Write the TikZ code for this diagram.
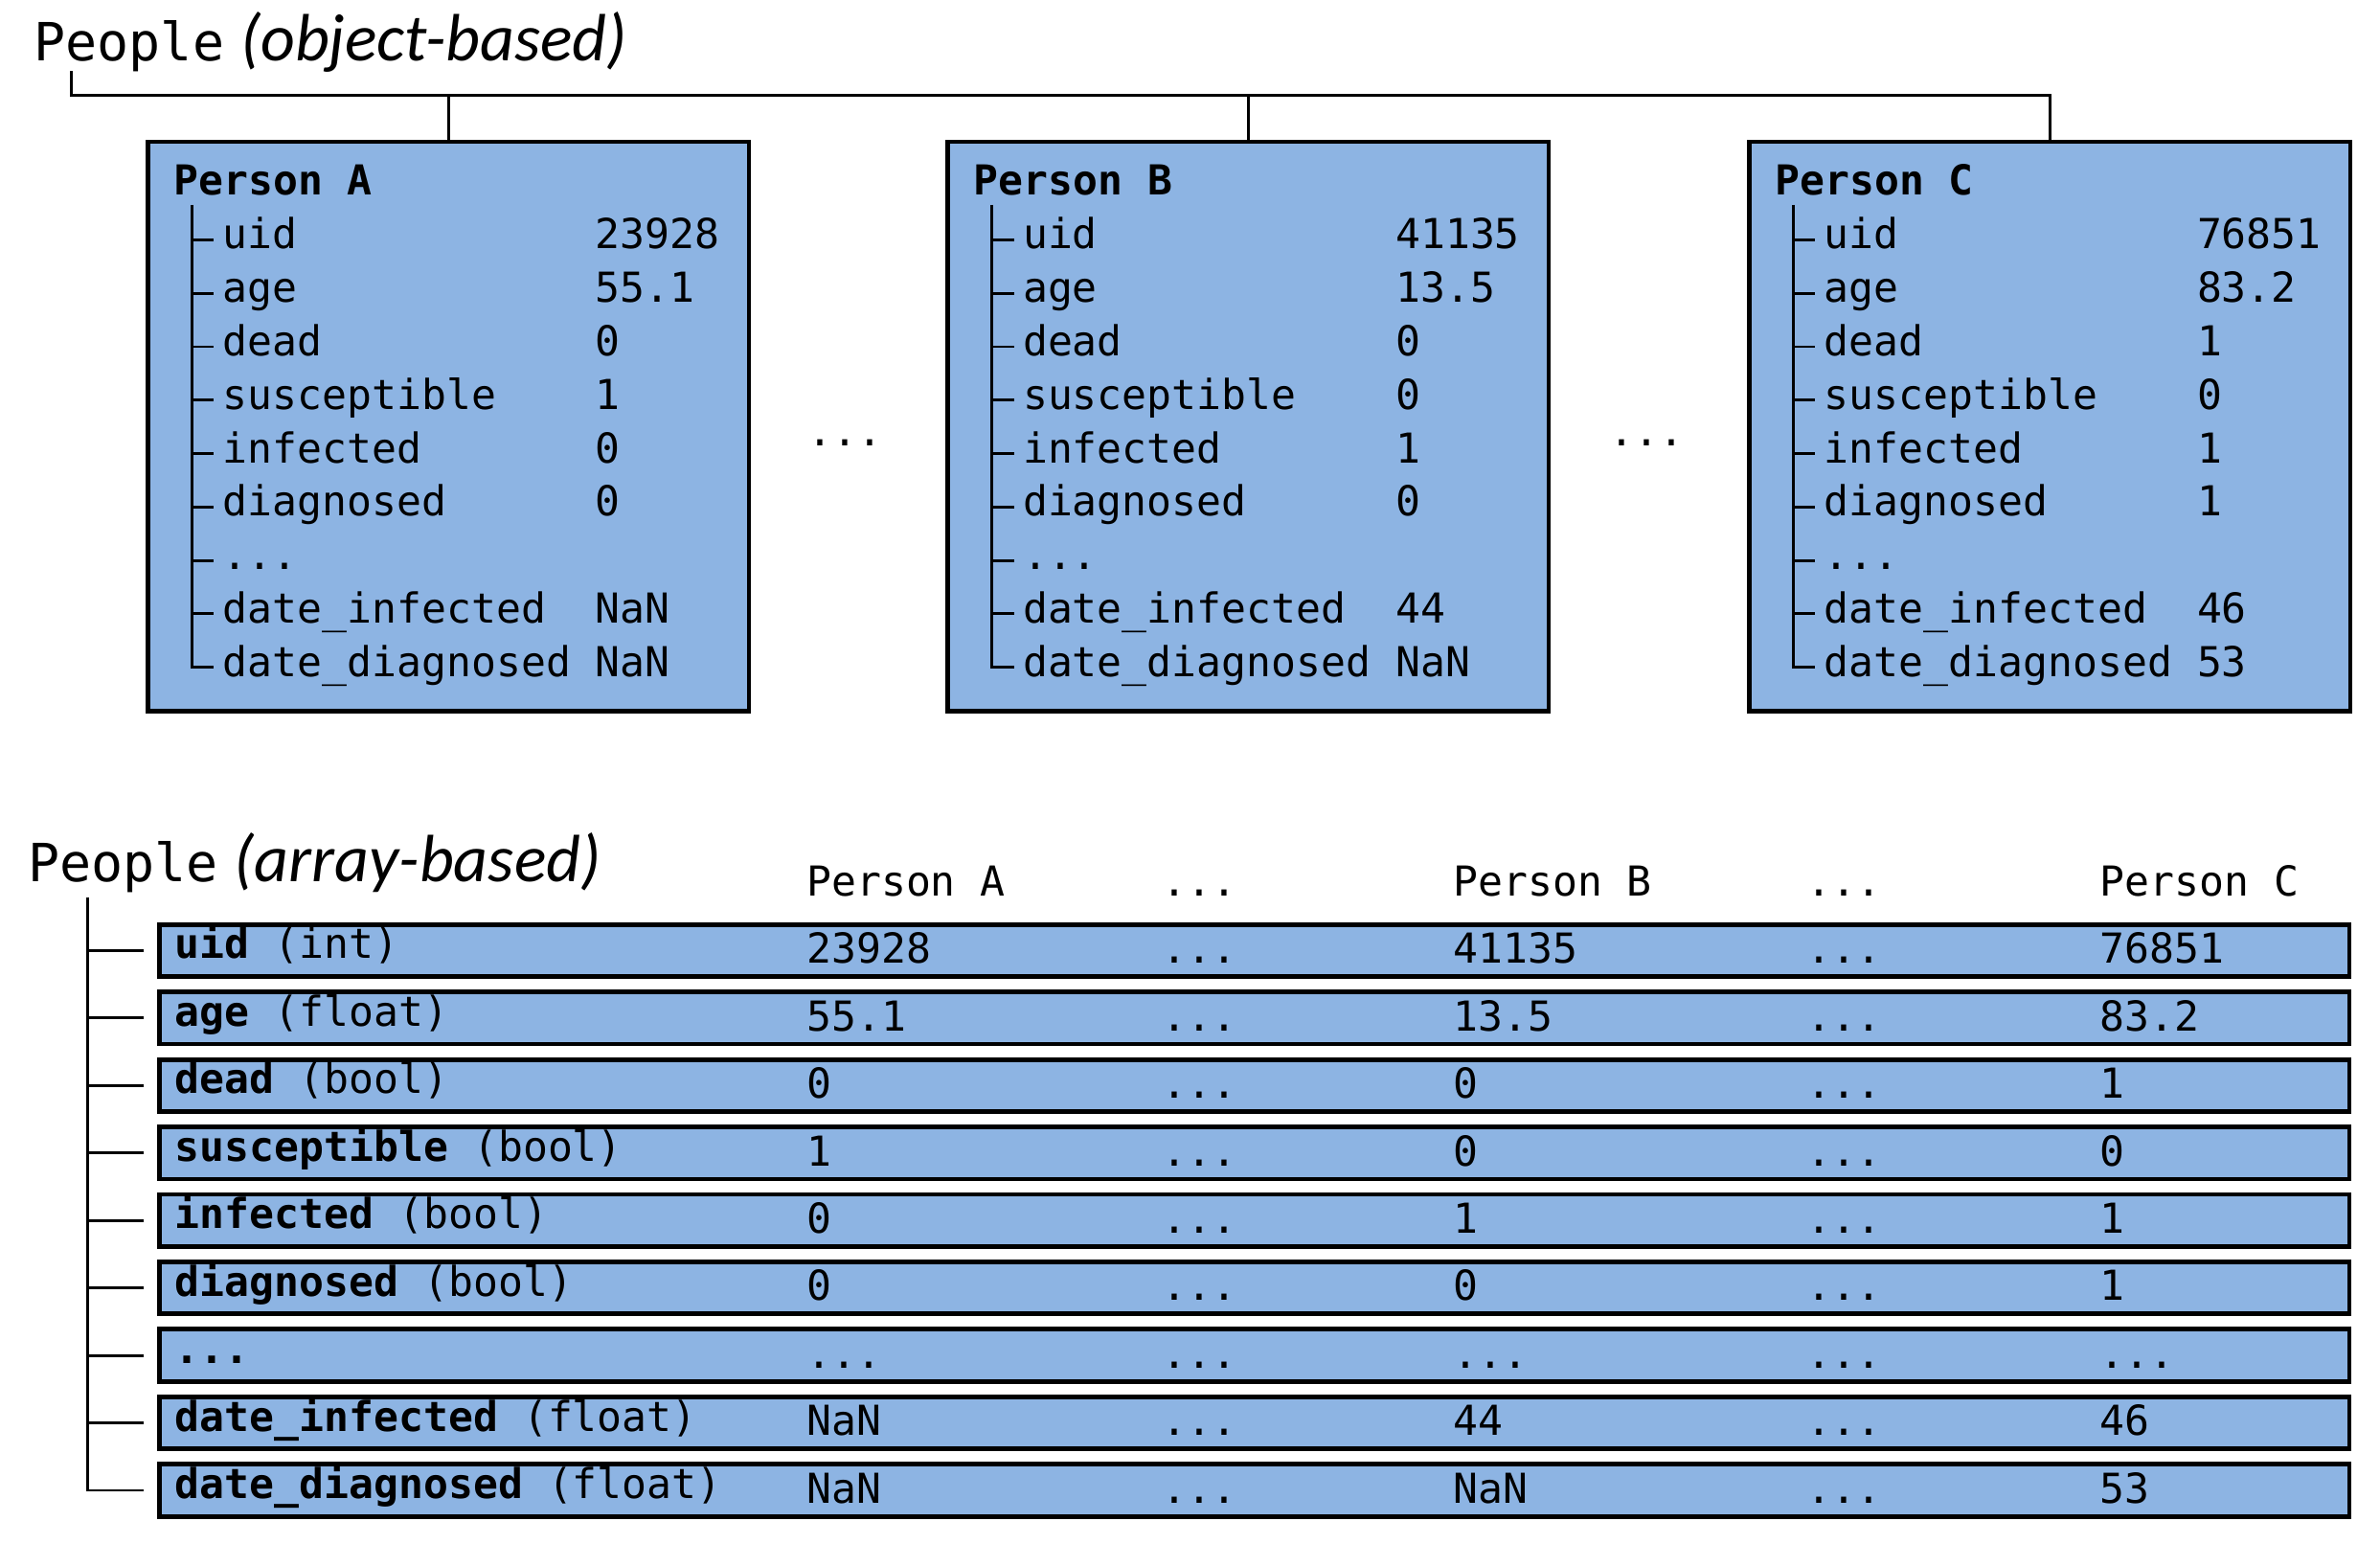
\documentclass[tikz,border=0pt]{standalone}
\usepackage{fontspec}
\setmonofont{DejaVu Sans Mono}
\newfontfamily\slantfont{Carlito}
\definecolor{cellblue}{RGB}{141,180,227}
\newcommand{\headfont}{\fontsize{14.8}{16}\selectfont\ttfamily}
\newcommand{\bodyfont}{\fontsize{11.6}{13}\selectfont\ttfamily}
\newcommand{\kindtext}[1]{{\fontsize{18.8}{20}\selectfont\slantfont\itshape #1}}
\newcommand{\threedots}{...}
\tikzset{
  pbox/.style={draw, fill=cellblue, line width=1.2pt, inner sep=0pt,
    minimum width=5.94cm, minimum height=5.625cm},
  rowbox/.style={draw, fill=cellblue, line width=1.3pt, inner sep=0pt,
    minimum width=21.64cm, minimum height=0.515cm},
  txt/.style={anchor=base west, inner sep=0pt, font=\bodyfont},
  tree/.style={line width=0.8pt},
}

\begin{document}
\begin{tikzpicture}[x=0.015cm, y=-0.015cm]
  \useasboundingbox (0,0) rectangle (1568,1017);
  % object-based view
  \node[anchor=base west, inner sep=0pt, font=\headfont] (objtitle) at (22,40) {People\hspace{0.16cm}\kindtext{(object-based)}};
  \foreach \who/\ox/\vuid/\vage/\vdead/\vsus/\vinf/\vdia/\vdi/\vdd in
      {A/96/23928/55.1/0/1/0/0/NaN/NaN, B/623/41135/13.5/0/0/1/0/44/NaN, C/1151/76851/83.2/1/0/1/1/46/53}{
    \begin{scope}[shift={(\ox,0)}]
      \node[pbox, anchor=north west] (p\who) at (0,92) {};
      \node[txt, font=\bodyfont\bfseries] (p\who-name) at (18,128.5) {Person \who};
      \coordinate (p\who-root) at (30.5,135);
      \foreach \lab/\val [count=\k from 0] in {uid/\vuid, age/\vage, dead/\vdead, susceptible/\vsus,
          infected/\vinf, diagnosed/\vdia, \threedots/{}, date\_infected/\vdi, date\_diagnosed/\vdd}{
        \coordinate (p\who-t\k) at (30.5,{158+35.2*\k});
        \draw[tree] (p\who-t\k) -- ++(14.5,0);
        \node[txt] (p\who-l\k) at (50.5,{164+35.2*\k}) {\lab};
        \node[txt] (p\who-v\k) at (296,{164+35.2*\k}) {\val};
      }
      \draw[tree] (p\who-root) -- (p\who-t8) -- ++(14.5,0);
    \end{scope}
  }
  \coordinate (objtop) at (47,47);
  \coordinate (objbus) at (47,63);
  \draw[tree] (objtop) -- (objbus) -| (pC.north);
  \draw[tree] (pA.north) -- (pA.north |- objbus);
  \draw[tree] (pB.north) -- (pB.north |- objbus);
  \node[txt, anchor=base] (gapAB) at (557,294) {\threedots};
  \node[txt, anchor=base] (gapBC) at (1085,294) {\threedots};

  % array-based view
  \node[anchor=base west, inner sep=0pt, font=\headfont] (arrtitle) at (18,581) {People\hspace{0.16cm}\kindtext{(array-based)}};
  \foreach \hx/\htext [count=\j] in {531/Person A, 765/\threedots, 957/Person B, 1190/\threedots, 1383/Person C}
    \node[txt] (head\j) at (\hx,590) {\htext};
  \coordinate (arrtrunk) at (58,591);
  \foreach \name/\kind/\va/\vb/\vc [count=\k from 0] in
      {uid/(int)/23928/41135/76851, age/(float)/55.1/13.5/83.2, dead/(bool)/0/0/1,
       susceptible/(bool)/1/0/0, infected/(bool)/0/1/1, diagnosed/(bool)/0/0/1,
       \threedots/{}/\threedots/\threedots/\threedots, date\_infected/(float)/NaN/44/46,
       date\_diagnosed/(float)/NaN/NaN/53}{
    \node[rowbox, anchor=north west] (row\k) at (103.5,{607.5+44.45*\k}) {};
    \draw[tree] ([xshift=-0.13cm]row\k.west) -- (arrtrunk |- row\k.west);
    \node[txt] (lab\k) at (115,{631.6+44.45*\k}) {\textbf{\name} \kind};
    \node[txt] (va\k) at (531,{634.6+44.45*\k}) {\va};
    \node[txt] (gab\k) at (765,{634.6+44.45*\k}) {\threedots};
    \node[txt] (vb\k) at (957,{634.6+44.45*\k}) {\vb};
    \node[txt] (gbc\k) at (1190,{634.6+44.45*\k}) {\threedots};
    \node[txt] (vc\k) at (1383,{634.6+44.45*\k}) {\vc};
  }
  \draw[tree] (arrtrunk) |- ([xshift=-0.13cm]row8.west);
\end{tikzpicture}
\end{document}
